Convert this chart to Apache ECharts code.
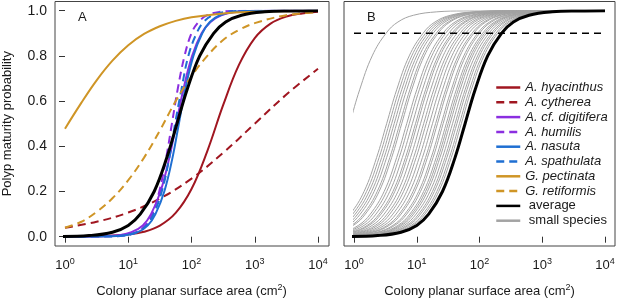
<!DOCTYPE html>
<html>
<head>
<meta charset="utf-8">
<script src="https://cdn.jsdelivr.net/npm/echarts@6/dist/echarts.min.js"></script>
<style>
  html, body { margin: 0; padding: 0; background: #fff; }
  #chart { width: 617px; height: 299px; }
</style>
</head>
<body>
<div id="chart"></div>
<script>
// x = log10(colony area in cm2), y = polyp maturity probability
const xTicks = [0, 1, 2, 3, 4];
const threshold = 0.9;

// panel A, species curves as [log10 area, probability]
const hyacinthus = [[0,0.0004],[0.5,0.002],[1,0.01],[1.25,0.022],[1.5,0.049],[1.75,0.105],[2,0.211],[2.25,0.379],[2.5,0.582],[2.75,0.76],[3,0.879],[3.25,0.943],[3.5,0.974],[3.75,0.988],[4,0.995]];
const cytherea = [[0,0.04],[0.5,0.066],[1,0.107],[1.5,0.169],[2,0.257],[2.5,0.371],[3,0.5],[3.5,0.629],[4,0.743]];
const digitifera = [[0,0],[0.5,0.001],[0.8,0.005],[1.05,0.02],[1.23,0.05],[1.36,0.1],[1.51,0.2],[1.65,0.35],[1.76,0.5],[1.87,0.65],[2.01,0.8],[2.16,0.9],[2.3,0.95],[2.47,0.98],[2.72,0.995],[3.02,0.999],[4,1]];
const humilis = [[0,0],[0.7,0.001],[0.93,0.005],[1.13,0.02],[1.27,0.05],[1.38,0.1],[1.49,0.2],[1.6,0.35],[1.69,0.5],[1.78,0.65],[1.89,0.8],[2,0.9],[2.11,0.95],[2.25,0.98],[2.45,0.995],[2.68,0.999],[4,1]];
const nasuta = [[0,0],[0.65,0.001],[0.92,0.005],[1.15,0.02],[1.31,0.05],[1.43,0.1],[1.57,0.2],[1.7,0.35],[1.8,0.5],[1.9,0.65],[2.03,0.8],[2.17,0.9],[2.29,0.95],[2.45,0.98],[2.68,0.995],[2.95,0.999],[4,1]];
const spathulata = [[0,0],[0.68,0.001],[0.93,0.005],[1.14,0.02],[1.29,0.05],[1.4,0.1],[1.53,0.2],[1.65,0.35],[1.74,0.5],[1.84,0.65],[1.95,0.8],[2.08,0.9],[2.19,0.95],[2.34,0.98],[2.55,0.995],[2.8,0.999],[4,1]];
const pectinata = [[0,0.478],[0.25,0.589],[0.5,0.692],[0.75,0.779],[1,0.847],[1.25,0.897],[1.5,0.931],[1.75,0.955],[2,0.971],[2.5,0.988],[3,0.995],[3.5,0.998],[4,0.999]];
const retiformis = [[0,0.04],[0.25,0.065],[0.5,0.11],[0.75,0.17],[1,0.25],[1.25,0.35],[1.5,0.47],[1.75,0.6],[2,0.71],[2.25,0.8],[2.5,0.87],[2.75,0.915],[3,0.945],[3.5,0.98],[4,0.993]];

// average + small species: log10 area where each curve reaches these probabilities
const levels = [0.001, 0.005, 0.02, 0.05, 0.1, 0.2, 0.35, 0.5, 0.65, 0.8, 0.9, 0.95, 0.98, 0.995, 0.999, 1];
const averageX = [-0.05,0.38,0.75,1.00,1.19,1.41,1.61,1.77,1.93,2.13,2.35,2.54,2.79,3.16,3.59,4];
const smallX = [
  [-1.89,-1.46,-1.09,-0.84,-0.65,-0.43,-0.23,-0.07,0.09,0.29,0.51,0.70,0.95,1.32,1.75,4],
  [-1.30,-0.87,-0.50,-0.25,-0.06,0.16,0.36,0.52,0.68,0.88,1.10,1.29,1.54,1.91,2.34,4],
  [-1.26,-0.83,-0.46,-0.21,-0.02,0.20,0.40,0.56,0.72,0.92,1.14,1.33,1.58,1.95,2.38,4],
  [-1.22,-0.79,-0.42,-0.17,0.02,0.24,0.44,0.60,0.76,0.96,1.18,1.37,1.62,1.99,2.42,4],
  [-1.18,-0.75,-0.38,-0.13,0.06,0.28,0.48,0.64,0.80,1.00,1.22,1.41,1.66,2.03,2.46,4],
  [-1.14,-0.71,-0.34,-0.09,0.10,0.32,0.52,0.68,0.84,1.04,1.26,1.45,1.70,2.07,2.50,4],
  [-1.09,-0.66,-0.29,-0.04,0.15,0.37,0.57,0.73,0.89,1.09,1.31,1.50,1.75,2.12,2.55,4],
  [-1.06,-0.63,-0.26,-0.01,0.18,0.40,0.60,0.76,0.92,1.12,1.34,1.53,1.78,2.15,2.58,4],
  [-0.98,-0.55,-0.18,0.07,0.26,0.48,0.68,0.84,1.00,1.20,1.42,1.61,1.86,2.23,2.66,4],
  [-0.94,-0.51,-0.14,0.11,0.30,0.52,0.72,0.88,1.04,1.24,1.46,1.65,1.90,2.27,2.70,4],
  [-0.89,-0.46,-0.09,0.16,0.35,0.57,0.77,0.93,1.09,1.29,1.51,1.70,1.95,2.32,2.75,4],
  [-0.84,-0.41,-0.04,0.21,0.40,0.62,0.82,0.98,1.14,1.34,1.56,1.75,2.00,2.37,2.80,4],
  [-0.81,-0.38,-0.01,0.24,0.43,0.65,0.85,1.01,1.17,1.37,1.59,1.78,2.03,2.40,2.83,4],
  [-0.76,-0.33,0.04,0.29,0.48,0.70,0.90,1.06,1.22,1.42,1.64,1.83,2.08,2.45,2.88,4],
  [-0.71,-0.28,0.09,0.34,0.53,0.75,0.95,1.11,1.27,1.47,1.69,1.88,2.13,2.50,2.93,4],
  [-0.67,-0.24,0.13,0.38,0.57,0.79,0.99,1.15,1.31,1.51,1.73,1.92,2.17,2.54,2.97,4],
  [-0.62,-0.19,0.18,0.43,0.62,0.84,1.04,1.20,1.36,1.56,1.78,1.97,2.22,2.59,3.02,4],
  [-0.57,-0.14,0.23,0.48,0.67,0.89,1.09,1.25,1.41,1.61,1.83,2.02,2.27,2.64,3.07,4],
  [-0.52,-0.09,0.28,0.53,0.72,0.94,1.14,1.30,1.46,1.66,1.88,2.07,2.32,2.69,3.12,4],
  [-0.49,-0.06,0.31,0.56,0.75,0.97,1.17,1.33,1.49,1.69,1.91,2.10,2.35,2.72,3.15,4],
  [-0.43,0.00,0.37,0.62,0.81,1.03,1.23,1.39,1.55,1.75,1.97,2.16,2.41,2.78,3.21,4],
  [-0.40,0.03,0.40,0.65,0.84,1.06,1.26,1.42,1.58,1.78,2.00,2.19,2.44,2.81,3.24,4],
  [-0.35,0.08,0.45,0.70,0.89,1.11,1.31,1.47,1.63,1.83,2.05,2.24,2.49,2.86,3.29,4],
  [-0.32,0.11,0.48,0.73,0.92,1.14,1.34,1.50,1.66,1.86,2.08,2.27,2.52,2.89,3.32,4],
  [-0.29,0.14,0.51,0.76,0.95,1.17,1.37,1.53,1.69,1.89,2.11,2.30,2.55,2.92,3.35,4],
  [-0.25,0.18,0.55,0.80,0.99,1.21,1.41,1.57,1.73,1.93,2.15,2.34,2.59,2.96,3.39,4],
  [-0.21,0.22,0.59,0.84,1.03,1.25,1.45,1.61,1.77,1.97,2.19,2.38,2.63,3.00,3.43,4],
  [-0.18,0.25,0.62,0.87,1.06,1.28,1.48,1.64,1.80,2.00,2.22,2.41,2.66,3.03,3.46,4],
  [-0.14,0.29,0.66,0.91,1.10,1.32,1.52,1.68,1.84,2.04,2.26,2.45,2.70,3.07,3.50,4],
  [-0.11,0.32,0.69,0.94,1.13,1.35,1.55,1.71,1.87,2.07,2.29,2.48,2.73,3.10,3.53,4]
];

const RED = '#a01620', PURPLE = '#8b2ee0', BLUE = '#1f6fd2', GOLD = '#cf9526', GRAY = '#a3a3a3';
const FONT = 'Liberation Sans, Arial, sans-serif';
const TXT = '#1a1a1a';

const species = [
  { name: 'A. hyacinthus', data: hyacinthus, color: RED, dash: false },
  { name: 'A. cytherea', data: cytherea, color: RED, dash: true },
  { name: 'A. cf. digitifera', data: digitifera, color: PURPLE, dash: false },
  { name: 'A. humilis', data: humilis, color: PURPLE, dash: true },
  { name: 'A. nasuta', data: nasuta, color: BLUE, dash: false },
  { name: 'A. spathulata', data: spathulata, color: BLUE, dash: true },
  { name: 'G. pectinata', data: pectinata, color: GOLD, dash: false },
  { name: 'G. retiformis', data: retiformis, color: GOLD, dash: true }
];

const toPairs = xs => xs.map((x, i) => [x, levels[i]]);

const curve = (name, data, color, width, dash, gi, z) => ({
  name, type: 'line', data, xAxisIndex: gi, yAxisIndex: gi,
  symbol: 'none', showSymbol: false, smooth: 0.4,
  lineStyle: { color, width, type: dash ? [8, 5] : 'solid' },
  itemStyle: { color }, silent: true, z: z || 2
});

const series = [];
species.forEach(s => series.push(curve(s.name, s.data, s.color, 2, s.dash, 0)));
series.push(curve('average', toPairs(averageX), '#000', 3, false, 0, 3));
smallX.forEach(xs => series.push(curve('small species', toPairs(xs), GRAY, 1, false, 1)));
series.push(curve('average', toPairs(averageX), '#000', 3, false, 1, 3));
series.push({
  name: 'threshold', type: 'line', xAxisIndex: 1, yAxisIndex: 1,
  data: [[xTicks[0], threshold], [xTicks[xTicks.length - 1], threshold]],
  symbol: 'none', silent: true, z: 3,
  lineStyle: { color: '#000', width: 1.5, type: [7, 5] }
});

const xAxisFor = gi => ({
  type: 'value', gridIndex: gi, min: 0, max: 4, interval: 1, offset: 9,
  axisLine: { show: false },
  axisTick: { show: true, length: 6, lineStyle: { color: '#333' } },
  splitLine: { show: false },
  axisLabel: {
    margin: 11, color: TXT, fontFamily: FONT,
    formatter: v => '{b|10}{s|' + v + '}',
    rich: {
      b: { fontSize: 13, fontFamily: FONT, color: TXT },
      s: { fontSize: 9, fontFamily: FONT, color: TXT, padding: [0, 0, 8, 0] }
    }
  },
  name: 'Colony planar surface area (cm{s|2})',
  nameLocation: 'middle', nameGap: 37,
  nameTextStyle: {
    fontSize: 13, fontFamily: FONT, color: TXT,
    rich: { s: { fontSize: 9, fontFamily: FONT, color: TXT, padding: [0, 0, 8, 0] } }
  }
});

const frame = (left, width) => ({
  left, top: 1.5, width, height: 244.5, show: true, outerBoundsMode: 'none',
  borderColor: '#444', borderWidth: 1, backgroundColor: 'transparent'
});

const chart = echarts.init(document.getElementById('chart'));
chart.setOption({
  animation: false,
  textStyle: { fontFamily: FONT },
  title: [
    { text: 'A', left: 78, top: 11, padding: 0, textStyle: { fontSize: 13, fontWeight: 'normal', color: TXT, fontFamily: FONT } },
    { text: 'B', left: 367, top: 11, padding: 0, textStyle: { fontSize: 13, fontWeight: 'normal', color: TXT, fontFamily: FONT } }
  ],
  grid: [
    { left: 65, top: 10.7, width: 253, height: 226, outerBoundsMode: 'none', containLabel: false },
    { left: 354, top: 10.7, width: 251, height: 226, outerBoundsMode: 'none', containLabel: false },
    frame(55, 274),
    frame(344, 271)
  ],
  xAxis: [xAxisFor(0), xAxisFor(1)],
  yAxis: [
    {
      type: 'value', gridIndex: 0, min: 0, max: 1, interval: 0.2, offset: 10,
      axisLine: { show: false },
      axisTick: { show: true, length: 6, lineStyle: { color: '#333' } },
      splitLine: { show: false },
      axisLabel: { margin: 8, fontSize: 14, color: TXT, fontFamily: FONT, formatter: v => v.toFixed(1) },
      name: 'Polyp maturity probability', nameLocation: 'middle', nameGap: 41,
      nameTextStyle: { fontSize: 13, color: TXT, fontFamily: FONT }
    },
    {
      type: 'value', gridIndex: 1, min: 0, max: 1, show: false, splitLine: { show: false }
    }
  ],
  legend: {
    orient: 'vertical', left: 495, top: 81, padding: 0,
    itemWidth: 24, itemHeight: 14, itemGap: 1.8, selectedMode: false,
    data: species.map(s => s.name).concat(['average', 'small species']),
    lineStyle: { width: 2.5 },
    itemStyle: { opacity: 0 },
    formatter: n => n === 'average' || n === 'small species' ? '{n| ' + n + '}' : '{i|' + n + '}',
    textStyle: {
      fontSize: 13, color: TXT, fontFamily: FONT,
      rich: {
        i: { fontSize: 13, fontStyle: 'italic', color: TXT, fontFamily: FONT },
        n: { fontSize: 13, color: TXT, fontFamily: FONT }
      }
    }
  },
  series
});
window.addEventListener('resize', () => chart.resize());
</script>
</body>
</html>
